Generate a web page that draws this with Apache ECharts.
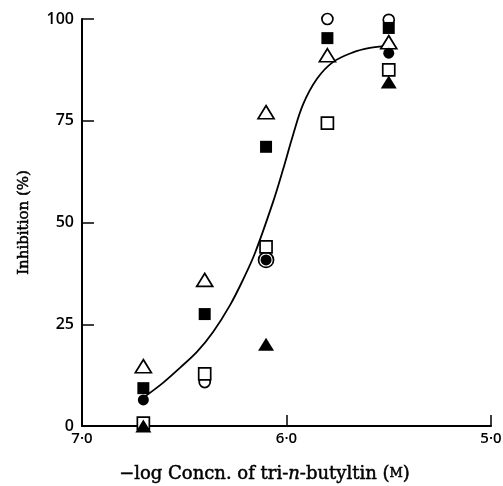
<!DOCTYPE html>
<html>
<head>
<meta charset="utf-8">
<script src="https://cdn.jsdelivr.net/npm/echarts@6/dist/echarts.min.js"></script>
<style>
  html, body { margin: 0; padding: 0; background: #fff; }
  #chart { width: 503px; height: 486px; }
</style>
</head>
<body>
<div id="chart"></div>
<script>
// -log concentration of each group of points
var doses = [6.7, 6.4, 6.1, 5.8, 5.5];
// inhibition (%) per symbol, null where no point
var openCircle     = [null, 10.8, 40.8, 100, 99.8];
var filledCircle   = [6.4, null, 40.8, null, 91.6];
var openTriangle   = [14.7, 35.9, 77.1, 91.1, 94.3];
var filledTriangle = [0, null, 20.1, null, 84.5];
var openSquare     = [0.7, 12.8, 44.0, 74.4, 87.5];
var filledSquare   = [9.3, 27.5, 68.6, 95.3, 97.8];
// fitted curve
var curveX = [6.702, 6.604, 6.521, 6.438, 6.359, 6.276, 6.213, 6.154, 6.066, 6.017, 5.968, 5.919, 5.851, 5.773, 5.675, 5.592, 5.509];
var curveY = [6.9, 10.6, 14.3, 18.2, 23.1, 29.7, 35.9, 42.5, 55.0, 63.0, 71.5, 79.0, 85.3, 89.4, 91.8, 92.9, 93.4];
var xTicks = [7.0, 6.0, 5.0];
var yTicks = [0, 25, 50, 75, 100];

function pairs(vals) {
  var out = [];
  for (var i = 0; i < doses.length; i++) {
    if (vals[i] !== null) out.push([doses[i], vals[i]]);
  }
  return out;
}

function pointSeries(name, vals, symbol, filled, size) {
  return {
    name: name,
    type: 'scatter',
    symbol: symbol,
    symbolSize: size,
    data: pairs(vals),
    itemStyle: {
      color: filled ? '#000' : '#fff',
      borderColor: '#000',
      borderWidth: filled ? 0 : 1.7,
      opacity: 1
    },
    z: filled ? 4 : 3
  };
}

// open circle drawn larger where it sits on a filled one
var ringData = [];
for (var i = 0; i < doses.length; i++) {
  if (openCircle[i] === null) continue;
  var overlap = filledCircle[i] !== null && Math.abs(filledCircle[i] - openCircle[i]) < 1;
  ringData.push({ value: [doses[i], openCircle[i]], symbolSize: overlap ? 15 : 11 });
}

var curve = [];
for (var j = 0; j < curveX.length; j++) curve.push([curveX[j], curveY[j]]);

var tickLabel = function (v) {
  return xTicks.indexOf(v) >= 0 ? v.toFixed(1).replace('.', '\u00b7') : '';
};

var myChart = echarts.init(document.getElementById('chart'));
var option = {
  animation: false,
  grid: { left: 82, right: 12, top: 19, bottom: 60, outerBoundsMode: 'none' },
  xAxis: {
    type: 'value',
    min: 5, max: 7, interval: 1,
    inverse: true,
    name: '\u2212log Concn. of tri-{i|n}-butyltin ({sc|M})',
    nameLocation: 'middle',
    nameGap: 39,
    nameTextStyle: {
      fontFamily: 'DejaVu Serif', fontSize: 18, color: '#000',
      textBorderColor: '#000', textBorderWidth: 0.5,
      padding: [0, 44, 0, 0],
      rich: {
        i: { fontFamily: 'DejaVu Serif', fontStyle: 'italic', fontSize: 18, color: '#000', textBorderColor: '#000', textBorderWidth: 0.5 },
        sc: { fontFamily: 'DejaVu Serif', fontSize: 13, color: '#000', textBorderColor: '#000', textBorderWidth: 0.5 }
      }
    },
    axisLine: { onZero: false, lineStyle: { color: '#000', width: 2 } },
    axisTick: { inside: true, length: 11, lineStyle: { color: '#000', width: 1.5 } },
    axisLabel: {
      margin: 5, color: '#000', fontFamily: 'Open Sans', fontWeight: 600, fontSize: 15,
      formatter: tickLabel
    },
    splitLine: { show: false }
  },
  yAxis: {
    type: 'value',
    min: 0, max: 100, interval: 25,
    name: 'Inhibition (%)',
    nameLocation: 'middle',
    nameGap: 50,
    nameTextStyle: {
      fontFamily: 'DejaVu Serif', fontSize: 15, color: '#000',
      textBorderColor: '#000', textBorderWidth: 0.5
    },
    axisLine: { onZero: false, lineStyle: { color: '#000', width: 2 } },
    axisTick: { inside: true, length: 12, lineStyle: { color: '#000', width: 1.5 } },
    axisLabel: {
      margin: 8, color: '#000', fontFamily: 'Open Sans', fontWeight: 600, fontSize: 16,
      formatter: function (v) { return yTicks.indexOf(v) >= 0 ? String(v) : ''; }
    },
    splitLine: { show: false }
  },
  series: [
    {
      name: 'fit',
      type: 'line',
      data: curve,
      smooth: 0.35,
      symbol: 'none',
      lineStyle: { color: '#000', width: 1.8 },
      z: 2
    },
    {
      name: 'open circle',
      type: 'scatter',
      symbol: 'circle',
      data: ringData,
      itemStyle: { color: '#fff', borderColor: '#000', borderWidth: 1.7, opacity: 1 },
      z: 3
    },
    pointSeries('open square', openSquare, 'rect', false, 12),
    pointSeries('open triangle', openTriangle, 'triangle', false, [16, 13]),
    pointSeries('filled square', filledSquare, 'rect', true, 12),
    pointSeries('filled triangle', filledTriangle, 'triangle', true, [16, 13]),
    pointSeries('filled circle', filledCircle, 'circle', true, 11)
  ]
};
myChart.setOption(option);
</script>
</body>
</html>
